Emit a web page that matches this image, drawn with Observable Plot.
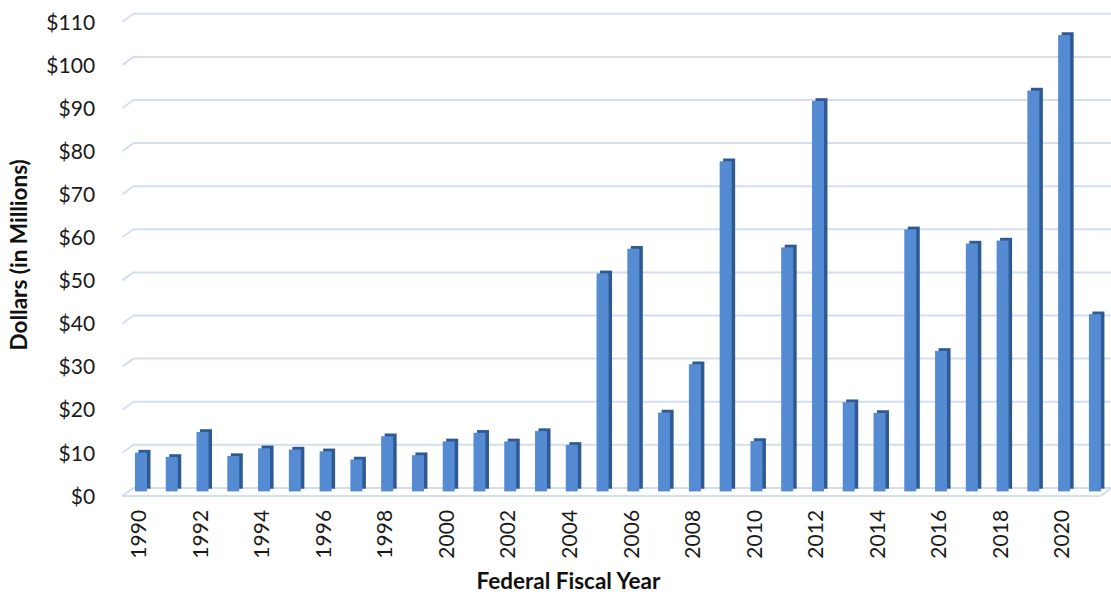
<!DOCTYPE html>
<html>
<head>
<meta charset="utf-8">
<script src="https://cdn.jsdelivr.net/npm/d3@7"></script>
<script src="https://cdn.jsdelivr.net/npm/@observablehq/plot@0.6"></script>
<style>
  html, body { margin: 0; padding: 0; background: #fff; }
  #chart svg { display: block; }
</style>
</head>
<body>
<div id="chart"></div>
<script>
// ---- data ----
const years = [1990,1991,1992,1993,1994,1995,1996,1997,1998,1999,2000,2001,2002,2003,2004,2005,2006,2007,2008,2009,2010,2011,2012,2013,2014,2015,2016,2017,2018,2019,2020,2021];
const values = [9.0,8.0,13.8,8.2,10.0,9.7,9.3,7.4,12.8,8.4,11.6,13.6,11.6,14.0,10.8,50.6,56.3,18.3,29.5,76.6,11.7,56.6,90.6,20.7,18.2,60.8,32.6,57.5,58.2,93.0,105.9,41.1];
const yTicks = [0,10,20,30,40,50,60,70,80,90,100,110];
const xTickYears = [1990,1992,1994,1996,1998,2000,2002,2004,2006,2008,2010,2012,2014,2016,2018,2020];
const xLabel = "Federal Fiscal Year";
const yLabel = "Dollars (in Millions)";

const data = years.map((year, i) => ({year, value: values[i]}));

// ---- style / pseudo-3D geometry constants (in scale units) ----
const BAR_HALF = 0.195;           // half width of bar front face (years)
const DEPTH_X = 0.3575;           // floor depth, horizontal (years)
const DEPTH_Y = 1.856;            // floor depth, vertical (dollars)
const BACK_LEFT = 1989.74;
const BACK_RIGHT = 2021.6;
const FRONT_LEFT = BACK_LEFT - DEPTH_X;
const FRONT_RIGHT = 2021.17;
const GRID = "#d3def1";
const FONT = "Lato, 'Open Sans', sans-serif";

const chart = Plot.plot({
  width: 1111,
  height: 596,
  marginTop: 13.3,
  marginBottom: 108.6,
  marginLeft: 125.6,
  marginRight: 0.7,
  style: {fontFamily: FONT, background: "#fff", overflow: "visible"},
  x: {type: "linear", domain: [1989.5, 2021.5]},
  y: {domain: [0, 110]},
  marks: [
    // back-wall gridlines
    Plot.ruleY(yTicks, {x1: BACK_LEFT, x2: BACK_RIGHT, stroke: GRID, strokeWidth: 2}),
    // side-wall diagonals
    Plot.link(yTicks, {x1: FRONT_LEFT, y1: d => d - DEPTH_Y, x2: BACK_LEFT, y2: d => d, stroke: GRID, strokeWidth: 2}),
    // floor front edge
    Plot.ruleY([-DEPTH_Y], {x1: FRONT_LEFT, x2: FRONT_RIGHT, stroke: GRID, strokeWidth: 2}),
    Plot.link([0], {x1: FRONT_RIGHT, y1: -DEPTH_Y, x2: FRONT_RIGHT + DEPTH_X, y2: 0, stroke: GRID, strokeWidth: 2}),
    // bar side face (dark)
    Plot.rect(data, {x1: d => d.year - BAR_HALF, x2: d => d.year + BAR_HALF, y1: 0, y2: "value", dx: 3.5, dy: 1.3, fill: "#2f5992"}),
    // bar top face
    Plot.rect(data, {x1: d => d.year - BAR_HALF, x2: d => d.year + BAR_HALF, y1: "value", y2: "value", dx: 3.5, dy: 1.3, insetTop: -0.1, fill: "#4272b4"}),
    // bar front face
    Plot.rect(data, {x1: d => d.year - BAR_HALF, x2: d => d.year + BAR_HALF, y1: 0, y2: "value", dy: 4, fill: "#558bd3"}),
    // axes
    Plot.axisY(yTicks, {
      anchor: "left", tickSize: 0, tickPadding: 31, dy: 9,
      tickFormat: d => "$" + d, fontSize: 21, fill: "#1a1a1a", label: null
    }),
    Plot.axisX(xTickYears, {
      anchor: "bottom", tickSize: 0, tickRotate: -90, tickPadding: 22, dx: -2,
      tickFormat: d => String(d), fontSize: 21, fill: "#1a1a1a", label: null
    }),
    Plot.text([yLabel], {
      frameAnchor: "left", rotate: -90, dx: -106, dy: 4,
      fontSize: 22.5, fontWeight: "bold", fill: "#111", textAnchor: "middle"
    }),
    Plot.text([xLabel], {
      frameAnchor: "bottom", dy: 101, dx: -50,
      fontSize: 22.5, fontWeight: "bold", fill: "#111", textAnchor: "middle"
    })
  ]
});

document.getElementById("chart").appendChild(chart);
</script>
</body>
</html>
